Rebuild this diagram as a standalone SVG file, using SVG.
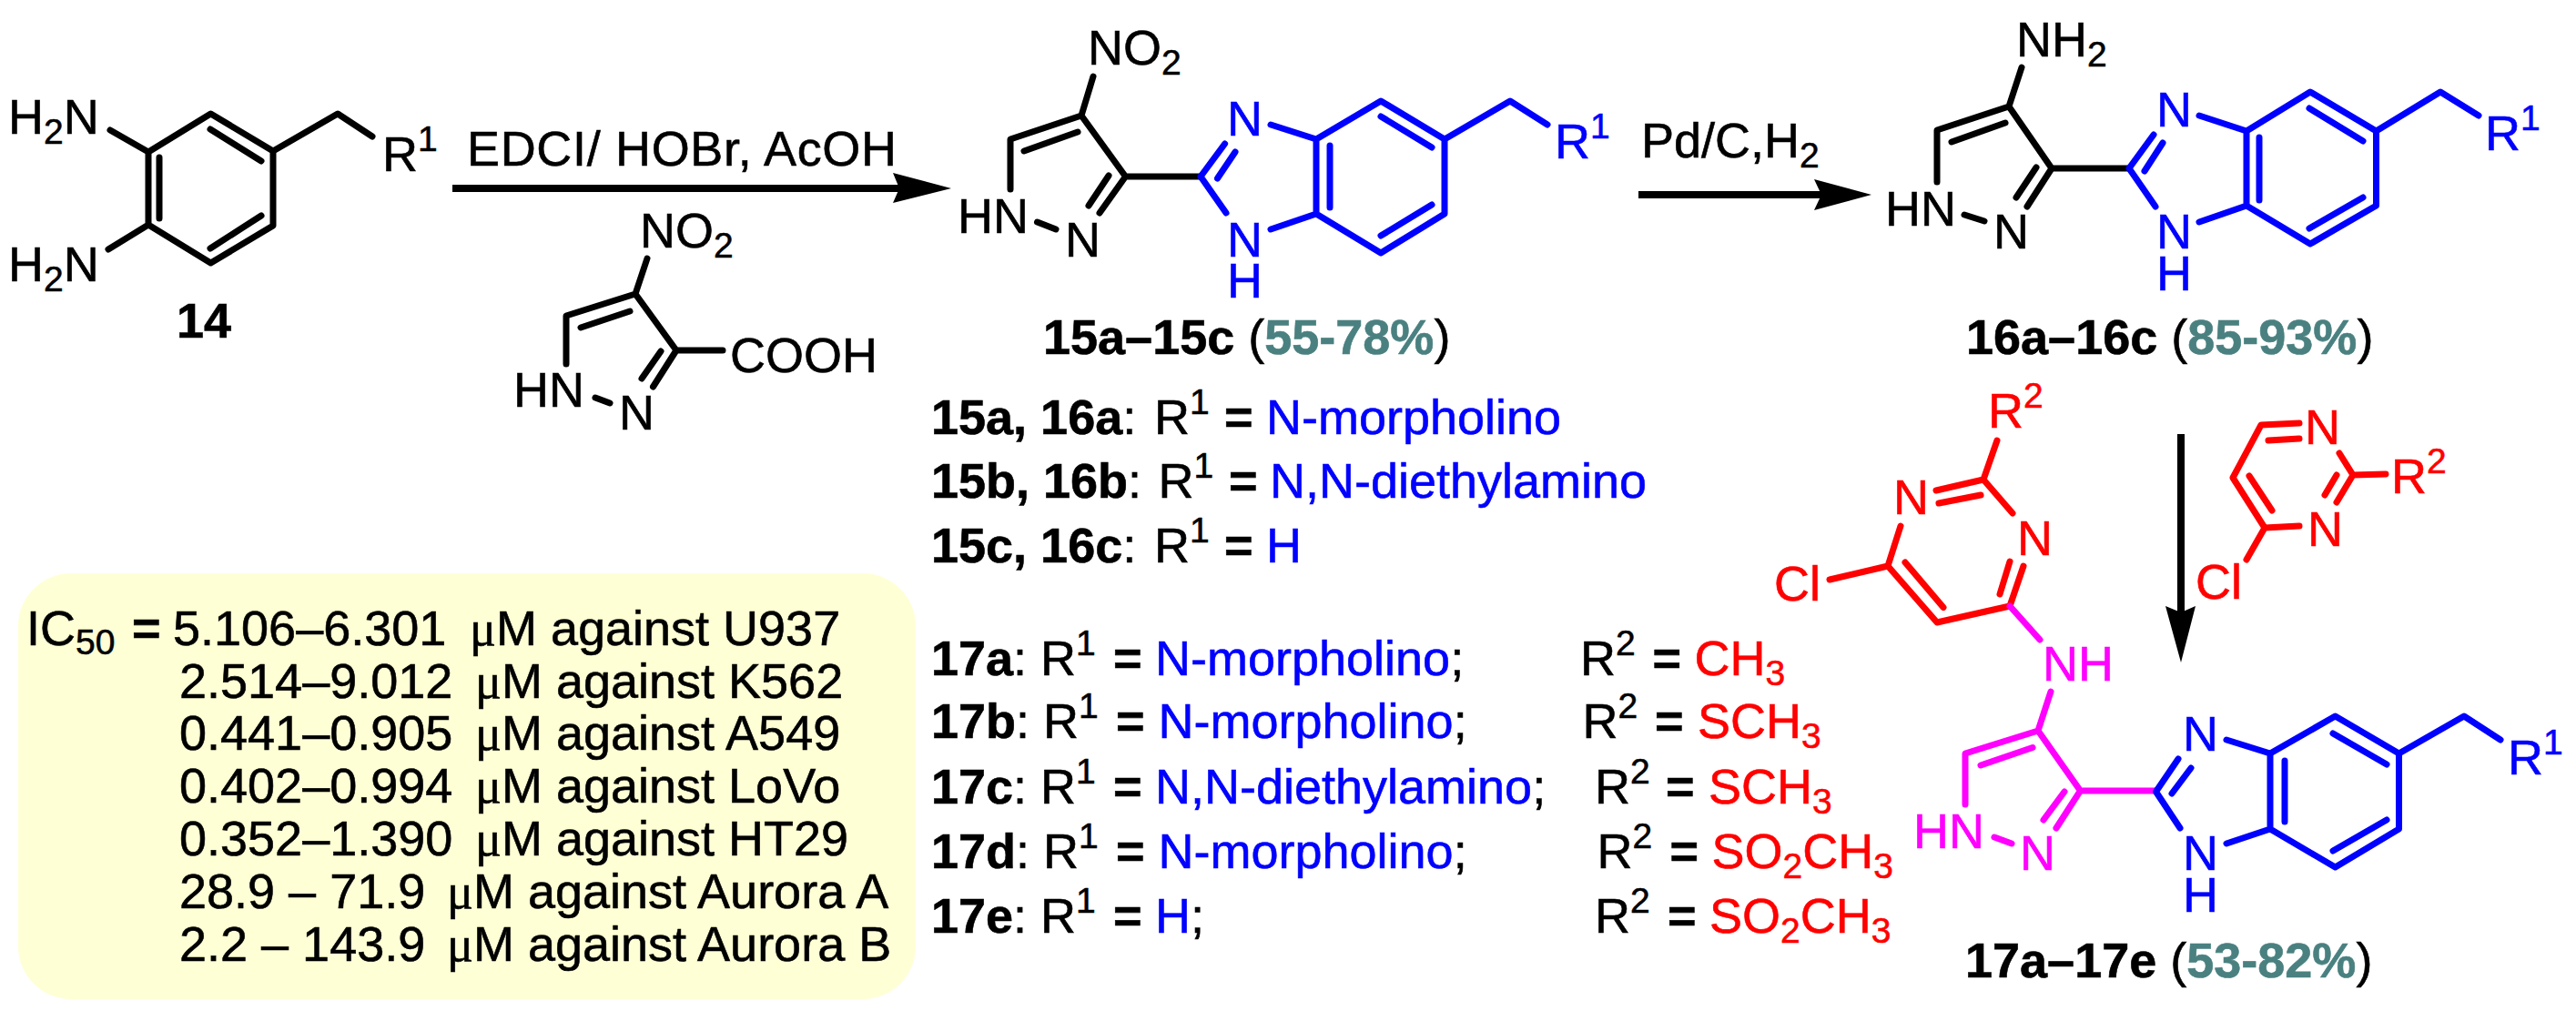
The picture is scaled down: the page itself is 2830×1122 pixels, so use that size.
<svg xmlns="http://www.w3.org/2000/svg" width="2830" height="1122" viewBox="0 0 2830 1122">
<style>
text{font-family:"Liberation Sans",Arial,sans-serif;font-size:54px;fill:#000;stroke:#000;stroke-width:.6}
.s{font-size:39px}
.u{font-family:"Liberation Serif",serif}
.b{font-weight:bold}
.bl{fill:#0000ff;stroke:#0000ff}
.r{fill:#ff0000;stroke:#ff0000}
.m{fill:#ff00ff;stroke:#ff00ff}
.y{font-weight:bold;fill:#4a8080;stroke:#4a8080}
.k,.kb,.kr,.km,.ar{fill:none;stroke-width:7;stroke-linecap:round;stroke-linejoin:round}
.k{stroke:#000}
.kb{stroke:#0000ff}
.kr{stroke:#ff0000}
.km{stroke:#ff00ff}
.ar{stroke:#000;stroke-width:8;stroke-linecap:butt}
</style>
<rect id="activity-box" x="20" y="630" width="986" height="468" rx="58" ry="58" fill="#ffffd6"/>
<g id="connectors">
<path class="ar" d="M497 207H990"/><path d="M1045 207L981 190L988 207L981 223Z"/>
<path class="ar" d="M1800 214H2005"/><path d="M2056 214L1993 197L2001 214L1993 231Z"/>
<path class="ar" d="M2396 477V680"/><path d="M2396 728L2379 666L2396 673L2412 666Z"/>
</g>
<g id="compound-14">
<path class="k" d="M163 167L231.5 125L300 166V248L231.5 289L163 247ZM300 166L371 125L409 150M163 167L121 143M163 247L119 274M231 142L287 177M175 173V240M231 273L287 237"/>
<text x="9" y="147">H<tspan class="s" dy="11">2</tspan><tspan dy="-11">N</tspan></text>
<text x="9" y="309">H<tspan class="s" dy="11">2</tspan><tspan dy="-11">N</tspan></text>
<text x="420" y="188">R<tspan class="s" dy="-22">1</tspan></text>
<text x="194" y="371" class="b">14</text>
</g>
<g id="reagent-acid">
<path class="k" d="M711 284L698 323L622 347V400M638 360L692 342M698 323L743 385L717.5 425M726 386L705 416M743 385H794M654 437L670 443"/>
<text x="703" y="272">NO<tspan class="s" dy="11">2</tspan></text>
<text x="802" y="409">COOH</text>
<text x="564" y="447">HN</text>
<text x="680" y="472">N</text>
</g>
<text id="condition-1" x="513" y="182" textLength="472">EDCI/ HOBr, AcOH</text>
<text id="condition-2" x="1803" y="173">Pd/C,H<tspan class="s" dy="11">2</tspan></text>
<g id="compound-15">
<path class="k" d="M1201 84L1188 127L1110 153V208M1125 166L1184 145M1188 127L1236.5 194L1208 234M1218 193L1196 226M1236.5 194H1319M1139.5 244L1160 252"/>
<path class="kb" d="M1345.6 158L1319 194L1347 234M1357 167L1337.5 196M1396 137L1446 153M1446 153L1517 111L1587 153V235L1517 278L1446 235ZM1396 252L1446 235M1461 160V228M1517 128L1573 162M1517 259L1573 225M1587 153L1659 111L1700 137"/>
<text x="1195" y="71">NO<tspan class="s" dy="11">2</tspan></text>
<text x="1052" y="256">HN</text>
<text x="1170" y="282">N</text>
<text x="1348" y="149" class="bl">N</text>
<text x="1348" y="282" class="bl">N</text>
<text x="1348" y="327" class="bl">H</text>
<text x="1708" y="174" class="bl">R<tspan class="s" dy="-22">1</tspan></text>
<text x="1146" y="389"><tspan class="b">15a–15c</tspan> (<tspan class="y">55-78%</tspan>)</text>
</g>
<g id="compound-16">
<path class="k" d="M2221 74L2207 117L2128 143V200M2144 156L2203 135M2207 117L2254 185L2227 227M2237 184L2215 217M2254 185H2339M2158 236L2180 243"/>
<path class="kb" d="M2366 148L2339 185L2368 227M2376 157L2356 188M2416 127L2468 144M2468 144L2538 101L2610.5 144V226L2538 268L2468 226ZM2416 244L2468 226M2482 151V220M2537 119L2596 155M2537 251L2596 217M2610.5 144L2681 101L2723 127"/>
<text x="2215" y="62">NH<tspan class="s" dy="11">2</tspan></text>
<text x="2071" y="248">HN</text>
<text x="2190" y="273">N</text>
<text x="2369" y="139" class="bl">N</text>
<text x="2369" y="273" class="bl">N</text>
<text x="2369" y="319" class="bl">H</text>
<text x="2730" y="165" class="bl">R<tspan class="s" dy="-22">1</tspan></text>
<text x="2160" y="389"><tspan class="b">16a–16c</tspan> (<tspan class="y">85-93%</tspan>)</text>
</g>
<g id="reagent-pyrimidine">
<path class="kr" d="M2526 465L2484 467L2453 525L2488 580L2526 578M2492 484L2526 482M2471 523L2496 561M2488 580L2468 615M2570 498L2585 522L2567 552M2567 522L2554 544M2585 522L2621 521"/>
<text x="2532" y="488" class="r">N</text>
<text x="2535" y="600" class="r">N</text>
<text x="2627" y="542" class="r">R<tspan class="s" dy="-22">2</tspan></text>
<text x="2412" y="658" class="r">Cl</text>
</g>
<g id="compound-17">
<path class="kr" d="M2194 484L2179 527L2127 539M2130 553L2176 544M2179 527L2211 564M2088 578L2074 622L2010 637M2074 622L2128 684L2208 666L2223 622M2093 618L2135 667.5M2197 653L2208 617"/>
<path class="km" d="M2208 666L2241 703M2253 760L2239 803L2159 828V884M2176 841L2233 821.5M2239 803L2285.5 869L2259 910M2268 870L2245 901M2285.5 869H2368.5M2191 920L2210 927"/>
<path class="kb" d="M2393 834L2368.5 870L2395 910M2407 844L2386 872M2446 813L2494 828M2494 828L2565.5 787L2635.5 828V911L2565.5 953L2494 911ZM2446 927L2494 911M2510 836V903M2563 806L2622 840M2563 935L2622 901M2635.5 828L2707 787L2747 813"/>
<text x="2184" y="470" class="r">R<tspan class="s" dy="-22">2</tspan></text>
<text x="2080" y="565" class="r">N</text>
<text x="2216" y="610" class="r">N</text>
<text x="1949" y="660" class="r">Cl</text>
<text x="2244" y="748" class="m">NH</text>
<text x="2102" y="932" class="m">HN</text>
<text x="2219" y="956" class="m">N</text>
<text x="2398" y="825" class="bl">N</text>
<text x="2398" y="956" class="bl">N</text>
<text x="2398" y="1002" class="bl">H</text>
<text x="2755" y="851" class="bl">R<tspan class="s" dy="-22">1</tspan></text>
<text x="2159" y="1074"><tspan class="b">17a–17e</tspan> (<tspan class="y">53-82%</tspan>)</text>
</g>
<g id="r-group-table">
<text x="1023" y="477"><tspan class="b">15a, 16a</tspan>: <tspan x="1268">R</tspan><tspan class="s" dy="-22">1</tspan><tspan class="b" x="1345" dy="22">=</tspan><tspan class="bl" x="1391">N-morpholino</tspan></text>
<text x="1023" y="547"><tspan class="b">15b, 16b</tspan>: <tspan x="1272.5">R</tspan><tspan class="s" dy="-22">1</tspan><tspan class="b" x="1350" dy="22">=</tspan><tspan class="bl" x="1395">N,N-diethylamino</tspan></text>
<text x="1023" y="618"><tspan class="b">15c, 16c</tspan>: <tspan x="1268">R</tspan><tspan class="s" dy="-22">1</tspan><tspan class="b" x="1345" dy="22">=</tspan><tspan class="bl" x="1391">H</tspan></text>
<text x="1023" y="742"><tspan class="b">17a</tspan>: <tspan x="1143">R</tspan><tspan class="s" dy="-22">1</tspan><tspan class="b" x="1223" dy="22">=</tspan><tspan class="bl" x="1269">N-morpholino</tspan>;<tspan x="1736">R</tspan><tspan class="s" dy="-22">2</tspan><tspan class="b" x="1815.5" dy="22">=</tspan><tspan class="r" x="1861.5">CH</tspan><tspan class="s r" dy="11">3</tspan></text>
<text x="1023" y="811"><tspan class="b">17b</tspan>: <tspan x="1146">R</tspan><tspan class="s" dy="-22">1</tspan><tspan class="b" x="1226" dy="22">=</tspan><tspan class="bl" x="1272.5">N-morpholino</tspan>;<tspan x="1738.5">R</tspan><tspan class="s" dy="-22">2</tspan><tspan class="b" x="1818" dy="22">=</tspan><tspan class="r" x="1865">SCH</tspan><tspan class="s r" dy="11">3</tspan></text>
<text x="1023" y="883"><tspan class="b">17c</tspan>: <tspan x="1143">R</tspan><tspan class="s" dy="-22">1</tspan><tspan class="b" x="1223" dy="22">=</tspan><tspan class="bl" x="1269">N,N-diethylamino</tspan>;<tspan x="1752">R</tspan><tspan class="s" dy="-22">2</tspan><tspan class="b" x="1830" dy="22">=</tspan><tspan class="r" x="1877">SCH</tspan><tspan class="s r" dy="11">3</tspan></text>
<text x="1023" y="954"><tspan class="b">17d</tspan>: <tspan x="1146">R</tspan><tspan class="s" dy="-22">1</tspan><tspan class="b" x="1226" dy="22">=</tspan><tspan class="bl" x="1272.5">N-morpholino</tspan>;<tspan x="1754.6">R</tspan><tspan class="s" dy="-22">2</tspan><tspan class="b" x="1834.5" dy="22">=</tspan><tspan class="r" x="1880.5">SO</tspan><tspan class="s r" dy="11">2</tspan><tspan class="r" dy="-11">CH</tspan><tspan class="s r" dy="11">3</tspan></text>
<text x="1023" y="1025"><tspan class="b">17e</tspan>: <tspan x="1143">R</tspan><tspan class="s" dy="-22">1</tspan><tspan class="b" x="1223" dy="22">=</tspan><tspan class="bl" x="1269">H</tspan>;<tspan x="1752">R</tspan><tspan class="s" dy="-22">2</tspan><tspan class="b" x="1832" dy="22">=</tspan><tspan class="r" x="1878">SO</tspan><tspan class="s r" dy="11">2</tspan><tspan class="r" dy="-11">CH</tspan><tspan class="s r" dy="11">3</tspan></text>
</g>
<g id="activity-text">
<text x="29" y="709">IC<tspan class="s" dy="10">50</tspan><tspan class="b" x="145" dy="-10">=</tspan><tspan x="190">5.106–6.301</tspan><tspan class="u" x="516">μ</tspan>M against U937</text>
<text x="197" y="767">2.514–9.012<tspan class="u" x="522">μ</tspan>M against K562</text>
<text x="197" y="824">0.441–0.905<tspan class="u" x="522">μ</tspan>M against A549</text>
<text x="197" y="882">0.402–0.994<tspan class="u" x="522">μ</tspan>M against LoVo</text>
<text x="197" y="940">0.352–1.390<tspan class="u" x="522">μ</tspan>M against HT29</text>
<text x="197" y="998">28.9 – 71.9<tspan class="u" x="491">μ</tspan>M against Aurora A</text>
<text x="197" y="1056">2.2 – 143.9<tspan class="u" x="491">μ</tspan>M against Aurora B</text>
</g>
</svg>
